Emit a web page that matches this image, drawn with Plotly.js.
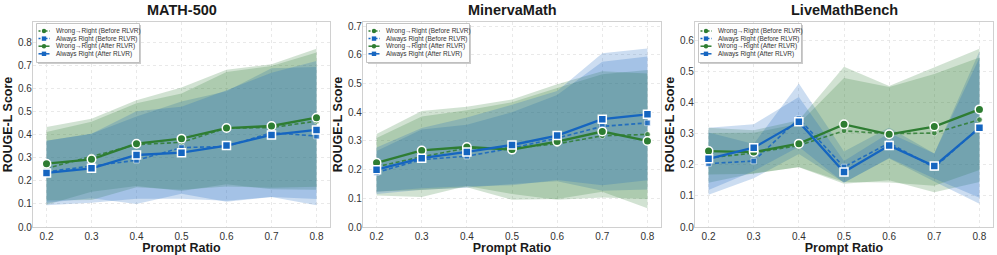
<!DOCTYPE html>
<html><head><meta charset="utf-8">
<script src="https://cdn.plot.ly/plotly-3.0.1.min.js"></script>
<style>html,body{margin:0;padding:0;background:#fff}#chart{width:997px;height:255px}</style>
</head><body><div id="chart"></div>
<script>
// ---------- data ----------
const promptRatio = [0.2, 0.3, 0.4, 0.5, 0.6, 0.7, 0.8];
const panelTitles = ['MATH-500', 'MinervaMath', 'LiveMathBench'];
const seriesNames = ['Wrong→Right (Before RLVR)', 'Always Right (Before RLVR)', 'Wrong→Right (After RLVR)', 'Always Right (After RLVR)'];

// MATH-500 (mean, std)
const math_wrBefore     = [0.255, 0.305, 0.358, 0.368, 0.430, 0.432, 0.460];
const math_wrBeforeStd  = [0.158, 0.152, 0.180, 0.212, 0.244, 0.268, 0.298];
const math_arBefore     = [0.240, 0.265, 0.290, 0.345, 0.350, 0.410, 0.395];
const math_arBeforeStd  = [0.135, 0.140, 0.190, 0.200, 0.240, 0.280, 0.300];
const math_wrAfter      = [0.275, 0.294, 0.362, 0.384, 0.430, 0.439, 0.475];
const math_wrAfterStd   = [0.160, 0.177, 0.189, 0.222, 0.254, 0.268, 0.300];
const math_arAfter      = [0.235, 0.255, 0.313, 0.323, 0.354, 0.400, 0.422];
const math_arAfterStd   = [0.140, 0.150, 0.190, 0.200, 0.240, 0.270, 0.300];

// MinervaMath
const minerva_wrBefore    = [0.210, 0.245, 0.275, 0.275, 0.290, 0.318, 0.323];
const minerva_wrBeforeStd = [0.100, 0.140, 0.132, 0.160, 0.195, 0.215, 0.225];
const minerva_arBefore    = [0.190, 0.235, 0.247, 0.275, 0.310, 0.351, 0.363];
const minerva_arBeforeStd = [0.075, 0.105, 0.110, 0.125, 0.150, 0.225, 0.232];
const minerva_wrAfter     = [0.224, 0.267, 0.279, 0.270, 0.298, 0.333, 0.300];
const minerva_wrAfterStd  = [0.100, 0.138, 0.140, 0.175, 0.200, 0.210, 0.235];
const minerva_arAfter     = [0.200, 0.240, 0.262, 0.286, 0.319, 0.376, 0.393];
const minerva_arAfterStd  = [0.077, 0.105, 0.120, 0.140, 0.155, 0.230, 0.230];

// LiveMathBench
const live_wrBefore    = [0.222, 0.238, 0.262, 0.309, 0.300, 0.302, 0.345];
const live_wrBeforeStd = [0.080, 0.065, 0.070, 0.170, 0.150, 0.190, 0.200];
const live_arBefore    = [0.204, 0.212, 0.348, 0.193, 0.270, 0.191, 0.320];
const live_arBeforeStd = [0.100, 0.055, 0.113, 0.050, 0.050, 0.045, 0.245];
const live_wrAfter     = [0.244, 0.241, 0.268, 0.330, 0.298, 0.323, 0.378];
const live_wrAfterStd  = [0.075, 0.070, 0.075, 0.185, 0.155, 0.190, 0.195];
const live_arAfter     = [0.219, 0.255, 0.338, 0.177, 0.262, 0.196, 0.319];
const live_arAfterStd  = [0.100, 0.075, 0.080, 0.035, 0.040, 0.040, 0.225];

const yMaxes = [0.891, 0.715, 0.659];

// ---------- styling ----------
const GREEN = '#2e7d32', BLUE = '#1565c0';
const FAM = '"Liberation Sans", Arial, sans-serif';
const styles = [
  {color: GREEN, rgb: '46,125,50', symbol: 'circle', after: false},
  {color: BLUE,  rgb: '21,101,192', symbol: 'square', after: false},
  {color: GREEN, rgb: '46,125,50', symbol: 'circle', after: true},
  {color: BLUE,  rgb: '21,101,192', symbol: 'square', after: true}
];
const panelSeries = [
  [[math_wrBefore, math_wrBeforeStd], [math_arBefore, math_arBeforeStd], [math_wrAfter, math_wrAfterStd], [math_arAfter, math_arAfterStd]],
  [[minerva_wrBefore, minerva_wrBeforeStd], [minerva_arBefore, minerva_arBeforeStd], [minerva_wrAfter, minerva_wrAfterStd], [minerva_arAfter, minerva_arAfterStd]],
  [[live_wrBefore, live_wrBeforeStd], [live_arBefore, live_arBeforeStd], [live_wrAfter, live_wrAfterStd], [live_arAfter, live_arAfterStd]]
];

const W = 997, H = 255;
const xDomains = [[33 / W, 330 / W], [363 / W, 661 / W], [695 / W, 993 / W]];
const yDomain = [1 - 227 / H, 1 - 22 / H];

const traces = [];
const layout = {
  width: W, height: H,
  margin: {l: 0, r: 0, t: 0, b: 0},
  paper_bgcolor: '#fff', plot_bgcolor: '#fff',
  showlegend: false,
  font: {family: FAM, color: '#333'},
  shapes: [], annotations: []
};

panelSeries.forEach((series, p) => {
  const s = p === 0 ? '' : String(p + 1);
  const xa = 'x' + s, ya = 'y' + s;
  // bands (mean ± std)
  series.forEach(([mean, std], k) => {
    const upper = mean.map((m, i) => m + std[i]);
    const lower = mean.map((m, i) => m - std[i]);
    traces.push({
      type: 'scatter', mode: 'lines', xaxis: xa, yaxis: ya,
      x: promptRatio.concat(promptRatio.slice().reverse()),
      y: upper.concat(lower.slice().reverse()),
      fill: 'toself', fillcolor: 'rgba(' + styles[k].rgb + ',0.22)',
      line: {width: 0}, hoverinfo: 'skip'
    });
  });
  // mean lines
  series.forEach(([mean], k) => {
    const st = styles[k];
    traces.push({
      type: 'scatter', mode: 'lines+markers', xaxis: xa, yaxis: ya,
      x: promptRatio, y: mean, name: seriesNames[k],
      line: st.after ? {color: st.color, width: 2.3} : {color: st.color, width: 1.6, dash: '4px,2.5px'},
      opacity: st.after ? 1 : 0.85,
      marker: st.after
        ? {symbol: st.symbol, size: st.symbol === 'circle' ? 8.5 : 8, color: st.color, line: {color: '#fff', width: 1.5}}
        : {symbol: st.symbol, size: 5.5, color: st.color, line: {color: '#fff', width: 0.6}}
    });
  });

  const axisCommon = {
    showgrid: true, gridcolor: '#e3e3e3', gridwidth: 0.8, griddash: '3px,3px',
    showline: true, mirror: true, linecolor: '#d0d0d0', linewidth: 1.2,
    ticks: '', zeroline: false, automargin: false,
    tickfont: {size: 10, color: '#333', family: FAM}
  };
  layout['xaxis' + s] = Object.assign({}, axisCommon, {
    domain: xDomains[p], anchor: ya, range: [0.17, 0.83],
    tickvals: promptRatio, tickformat: '.1f',
    title: {text: 'Prompt Ratio', font: {size: 12.5, family: FAM, weight: 'bold', color: '#1a1a1a'}, standoff: 1}
  });
  layout['yaxis' + s] = Object.assign({}, axisCommon, {
    domain: yDomain, anchor: xa, range: [0, yMaxes[p]],
    dtick: 0.1, tick0: 0, tickformat: '.1f', ticklabelstandoff: -2,
    title: {text: 'ROUGE-L Score', font: {size: 12.5, family: FAM, weight: 'bold', color: '#1a1a1a'}, standoff: 2}
  });

  // subplot title
  layout.annotations.push({
    xref: xa + ' domain', yref: 'paper', x: 0.5, y: 1 - 10.5 / H,
    xanchor: 'center', yanchor: 'middle', showarrow: false,
    text: panelTitles[p], font: {size: 14.5, family: FAM, weight: 'bold', color: '#1a1a1a'}
  });

  // legend box (pixel offsets from the top-left corner of the subplot)
  const px = (o) => Object.assign({
    xref: xa + ' domain', yref: ya + ' domain',
    xsizemode: 'pixel', xanchor: 0, ysizemode: 'pixel', yanchor: 1
  }, o);
  layout.shapes.push(px({type: 'rect', x0: 5, x1: 108, y0: -3, y1: -42, fillcolor: 'rgba(0,0,0,0.2)', line: {width: 0}}));
  layout.shapes.push(px({type: 'rect', x0: 3.5, x1: 106.5, y0: -1.5, y1: -40.5, fillcolor: 'rgba(255,255,255,0.95)', line: {color: '#b5b5b5', width: 0.8}}));
  seriesNames.forEach((nm, k) => {
    const st = styles[k];
    const cy = -(9 + k * 7.6);
    layout.shapes.push(px({type: 'line', x0: 5.5, x1: 16.5, y0: cy, y1: cy,
      line: {color: st.color, width: 1.5, dash: st.after ? 'solid' : '2px,1.5px'}}));
    layout.shapes.push(px({type: st.symbol === 'circle' ? 'circle' : 'rect', x0: 8.8, x1: 13.2, y0: cy - 2.2, y1: cy + 2.2,
      fillcolor: st.color, line: {width: 0}}));
    layout.annotations.push({
      xref: xa + ' domain', yref: ya + ' domain', x: 0, y: 1, xshift: 21, yshift: cy,
      xanchor: 'left', yanchor: 'middle', showarrow: false, text: nm,
      font: {size: 6.5, family: FAM, color: '#333'}
    });
  });
});

Plotly.newPlot('chart', traces, layout, {staticPlot: true, displayModeBar: false});
</script>
</body></html>
